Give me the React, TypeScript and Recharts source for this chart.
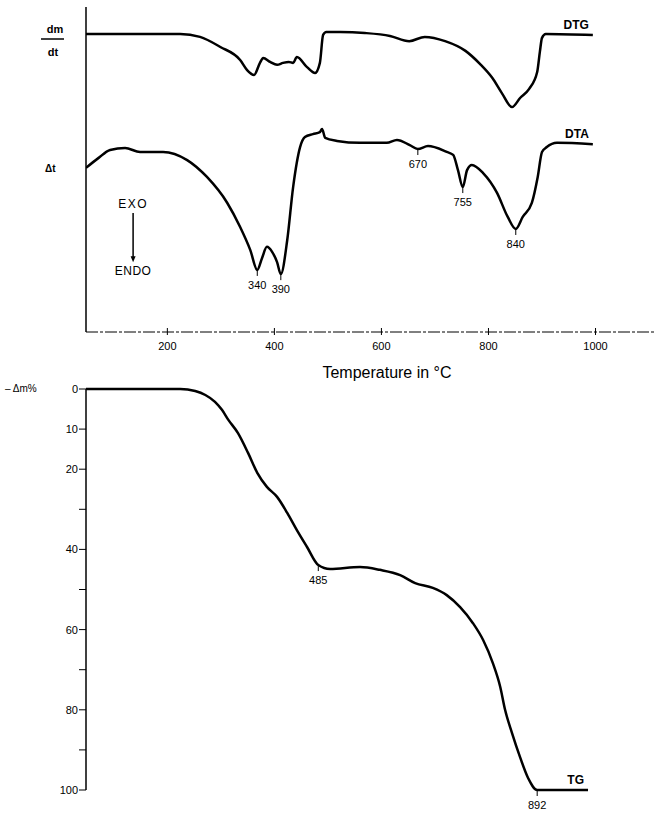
import React from "react";
import { LineChart, Line, XAxis, YAxis, ReferenceLine, LabelList, Label } from "recharts";

// Temperature axis (°C)
const tempTicks = [200, 400, 600, 800, 1000];

// DTG curve (arbitrary signal units, 0-100 panel height)
const dtgTemp = [48, 224, 261, 299, 336, 349, 362, 373, 379, 392, 405, 416, 427, 435, 442, 461, 476, 485, 491, 497, 523, 569, 616, 652, 681, 719, 757, 784, 807, 825, 844, 859, 876, 891, 896, 900, 907, 995];
const dtgSignal = [91.7, 91.7, 90.8, 87.7, 83.7, 80.6, 79.1, 82.8, 84.3, 83.1, 82.2, 82.8, 83.1, 82.8, 84.6, 81.5, 79.7, 82.8, 91.4, 92.3, 92.3, 92.0, 91.1, 89.5, 90.8, 89.5, 86.5, 82.5, 78.2, 73.5, 69.2, 72.0, 74.8, 80.0, 86.2, 90.5, 91.7, 91.4];

// DTA curve (arbitrary signal units)
const dtaTemp = [48, 71, 93, 121, 149, 192, 237, 274, 312, 336, 355, 368, 377, 386, 396, 405, 412, 424, 435, 448, 457, 472, 485, 489, 495, 517, 560, 610, 629, 653, 668, 687, 722, 734, 743, 752, 760, 769, 790, 816, 836, 851, 864, 881, 892, 900, 909, 928, 995];
const dtaSignal = [50.5, 53.5, 56.0, 56.6, 55.4, 55.4, 52.9, 47.7, 39.7, 32.3, 25.2, 19.1, 22.8, 26.2, 24.6, 21.5, 17.8, 28.3, 44.6, 56.9, 60.0, 60.9, 61.5, 62.5, 59.7, 58.8, 58.2, 58.2, 59.1, 57.5, 56.3, 57.2, 55.4, 54.5, 49.8, 44.6, 49.8, 51.4, 48.9, 42.8, 35.4, 31.7, 35.4, 39.7, 47.7, 55.4, 56.9, 58.2, 57.8];
const dtaPeakTemps = [368, 412, 668, 752, 851];
const dtaPeakLabels = ["340", "390", "670", "755", "840"];

// TG curve (mass loss, %)
const tgTemp = [48, 224, 252, 271, 289, 302, 314, 332, 351, 368, 386, 405, 424, 442, 461, 482, 504, 560, 597, 635, 663, 696, 722, 747, 771, 790, 808, 822, 831, 844, 859, 874, 891, 986];
const tgLoss = [0, 0, 0.5, 1.5, 3.2, 5.2, 7.7, 11.0, 16.0, 20.9, 24.4, 26.9, 30.9, 35.2, 39.4, 43.9, 44.9, 44.4, 45.1, 46.4, 48.4, 49.6, 51.4, 54.4, 58.4, 62.6, 68.3, 74.3, 80.0, 85.8, 91.8, 97.0, 100, 100];
const tgMarkTemps = [482, 891];
const tgMarkLabels = ["485", "892"];

const lossTicks = [0, 10, 20, 30, 40, 50, 60, 70, 80, 90, 100];
const lossLabelled = [0, 10, 20, 40, 60, 80, 100];

const FONT = "'Liberation Sans', Arial, sans-serif";
const TEMP_DOMAIN = [48, 1113];

const build = (temps: number[], vals: number[], markT: number[] = [], markL: string[] = []) =>
  temps.map((t, i) => {
    const k = markT.indexOf(t);
    return { t, v: vals[i], mark: k >= 0 ? markL[k] : undefined };
  });

const dtgRows = build(dtgTemp, dtgSignal);
const dtaRows = build(dtaTemp, dtaSignal, dtaPeakTemps, dtaPeakLabels);
const tgRows = build(tgTemp, tgLoss, tgMarkTemps, tgMarkLabels);

const TempTick = (props: any) => {
  const { x, y, payload } = props;
  return (
    <g>
      <line x1={x} y1={y - 4} x2={x} y2={y + 3} stroke="#000" strokeWidth={1} />
      <text x={x} y={y + 18} textAnchor="middle" fontSize={11} fontFamily={FONT} fill="#000">
        {payload.value}
      </text>
    </g>
  );
};

const LossTick = (props: any) => {
  const { x, y, payload } = props;
  return (
    <g>
      <line x1={x - 7} y1={y} x2={x} y2={y} stroke="#000" strokeWidth={1} />
      {lossLabelled.includes(payload.value) && (
        <text x={x - 8} y={y + 4} textAnchor="end" fontSize={11} fontFamily={FONT} fill="#000">
          {payload.value}
        </text>
      )}
    </g>
  );
};

// peak annotation: short stem below the point plus the temperature
const PeakLabel = (props: any) => {
  const { x, y, value } = props;
  if (!value) return null;
  return (
    <g>
      <line x1={x} y1={y + 1} x2={x} y2={y + 6} stroke="#000" strokeWidth={1} />
      <text x={x} y={y + 19} textAnchor="middle" fontSize={11} fontFamily={FONT} fill="#000">
        {value}
      </text>
    </g>
  );
};

// curve name at the right end of each trace
const nameLabel = (name: string, count: number) => (props: any) => {
  const { x, y, index } = props;
  if (index !== count - 1) return null;
  return (
    <text x={x - 4} y={y - 6} textAnchor="end" fontSize={12} fontWeight="bold" fontFamily={FONT} fill="#000">
      {name}
    </text>
  );
};

const UpperAxisTitles = (props: any) => {
  const { x, y } = props.viewBox;
  return (
    <g fontFamily={FONT} fill="#000">
      <text x={x + 51} y={y + 26} textAnchor="middle" fontSize={11} fontWeight="bold">dm</text>
      <line x1={x + 37} y1={y + 32} x2={x + 60} y2={y + 32} stroke="#000" strokeWidth={1.5} />
      <text x={x + 49} y={y + 49} textAnchor="middle" fontSize={11} fontWeight="bold">dt</text>
      <text x={x + 41} y={y + 165} fontSize={10} fontWeight="bold">Δt</text>
    </g>
  );
};

const LowerAxisTitle = (props: any) => {
  const { x, y } = props.viewBox;
  return (
    <text x={x + 1} y={y + 3} fontSize={10} fontFamily={FONT} fill="#000">
      – Δm%
    </text>
  );
};

const TempTitle = (props: any) => {
  const { x, y, width } = props.viewBox;
  return (
    <text x={x + width / 2 + 16} y={y + 46} textAnchor="middle" fontSize={16} fontFamily={FONT} fill="#000">
      Temperature in °C
    </text>
  );
};

const ExoEndoArrow = (props: any) => {
  const { x1, y1, x2, y2 } = props;
  return (
    <g fontFamily={FONT} fill="#000">
      <line x1={x1} y1={y1} x2={x2} y2={y2 - 4} stroke="#000" strokeWidth={1.5} />
      <path d={`M${x2 - 2.5},${y2 - 6} L${x2 + 2.5},${y2 - 6} L${x2},${y2} Z`} fill="#000" />
      <text x={x1} y={y1 - 5} textAnchor="middle" fontSize={12} letterSpacing={1.5}>EXO</text>
      <text x={x2} y={y2 + 13} textAnchor="middle" fontSize={12} letterSpacing={0.5}>ENDO</text>
    </g>
  );
};

const lineStyle = {
  type: "monotone" as const,
  dataKey: "v",
  stroke: "#000",
  strokeWidth: 2.5,
  dot: false,
  activeDot: false,
  isAnimationActive: false,
};

export default function App() {
  return (
    <div style={{ position: "absolute", left: 0, top: 0, width: 656, height: 815, background: "#fff" }}>
      <div style={{ position: "absolute", left: 0, top: 0 }}>
        <LineChart width={656} height={385} margin={{ top: 7, right: 0, bottom: 0, left: 4 }}>
          <XAxis
            type="number"
            dataKey="t"
            domain={TEMP_DOMAIN}
            allowDataOverflow
            ticks={tempTicks}
            interval={0}
            height={53}
            tickSize={0}
            tickMargin={0}
            tickLine={false}
            axisLine={{ stroke: "#000", strokeWidth: 1, strokeDasharray: "12 2 3 2" }}
            tick={<TempTick />}
          >
            <Label content={<TempTitle />} />
          </XAxis>
          <YAxis
            type="number"
            domain={[0, 100]}
            width={82}
            tick={false}
            tickLine={false}
            axisLine={{ stroke: "#000", strokeWidth: 1.5 }}
          >
            <Label content={<UpperAxisTitles />} />
          </YAxis>
          <ReferenceLine
            segment={[{ x: 136, y: 36.6 }, { x: 136, y: 21.5 }]}
            ifOverflow="visible"
            shape={ExoEndoArrow}
          />
          <Line {...lineStyle} data={dtgRows} name="DTG">
            <LabelList content={nameLabel("DTG", dtgRows.length)} />
          </Line>
          <Line {...lineStyle} data={dtaRows} name="DTA">
            <LabelList dataKey="mark" content={<PeakLabel />} />
            <LabelList content={nameLabel("DTA", dtaRows.length)} />
          </Line>
        </LineChart>
      </div>
      <div style={{ position: "absolute", left: 0, top: 380 }}>
        <LineChart width={656} height={435} margin={{ top: 9, right: 0, bottom: 25, left: 4 }}>
          <XAxis type="number" dataKey="t" domain={TEMP_DOMAIN} allowDataOverflow hide />
          <YAxis
            type="number"
            domain={[0, 100]}
            reversed
            ticks={lossTicks}
            interval={0}
            width={82}
            tickSize={0}
            tickMargin={0}
            tickLine={false}
            axisLine={{ stroke: "#000", strokeWidth: 1.5 }}
            tick={<LossTick />}
          >
            <Label content={<LowerAxisTitle />} />
          </YAxis>
          <Line {...lineStyle} data={tgRows} name="TG">
            <LabelList dataKey="mark" content={<PeakLabel />} />
            <LabelList content={nameLabel("TG", tgRows.length)} />
          </Line>
        </LineChart>
      </div>
    </div>
  );
}
